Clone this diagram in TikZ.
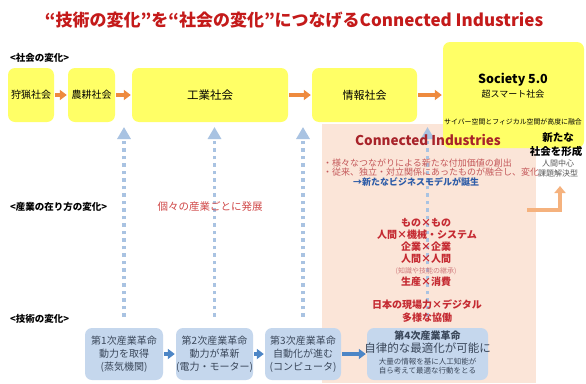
\documentclass[tikz,border=0pt]{standalone}
\usepackage{fontspec}
\setmainfont{Noto Sans CJK JP}
\usetikzlibrary{arrows.meta}
\definecolor{yel}{HTML}{FFFF66}
\definecolor{orng}{HTML}{EE8A3E}
\definecolor{lorng}{HTML}{F5B27E}
\definecolor{peach}{HTML}{FBE5D8}
\definecolor{lblue}{HTML}{C5D7ED}
\definecolor{darrc}{HTML}{A9C3E2}
\definecolor{barrc}{HTML}{4D86C6}
\definecolor{ttl}{HTML}{C41A1A}
\definecolor{dred}{HTML}{A8232A}
\definecolor{cred}{HTML}{C52A32}
\definecolor{mred}{HTML}{C4585A}
\definecolor{pred}{HTML}{D04848}
\definecolor{bltxt}{HTML}{2F5DA8}
\definecolor{boxtxt}{HTML}{3A475A}
\newcommand\myfs[2]{\fontsize{#1}{#2}\selectfont}
\tikzset{
  ybox/.style={fill=yel, rounded corners=7pt, inner sep=0pt, align=center},
  bbox/.style={fill=lblue, rounded corners=7pt, inner sep=0pt, align=center, text=boxtxt},
  oarr/.style={draw=orng, line width=3.5pt, -{Triangle[length=7pt,width=10pt]}, shorten <=1pt, shorten >=1pt},
  barr/.style={draw=barrc, line width=3.5pt, -{Triangle[length=7pt,width=10pt]}, shorten <=1pt, shorten >=1pt},
  darr/.style={draw=darrc, line width=3.5pt, dash pattern=on 3.5pt off 4pt, -{Triangle[length=12pt,width=13pt]}, shorten <=11pt},
  lab/.style={anchor=west, inner sep=0pt, font=\myfs{9.5}{11}\bfseries},
  ctr/.style={inner sep=0pt, align=center},
}
\begin{document}
\begin{tikzpicture}[x=1pt,y=-1pt]
\fill[white] (0,0) rectangle (586,383);
\useasboundingbox (0,0) rectangle (586,383);
% peach region
\fill[peach] (322,124) rectangle (536,383);
% title
\node[ctr, text=ttl, font=\myfs{17}{20}\bfseries] (title) at (294,20) {“技術の変化”を“社会の変化”につなげるConnected Industries};
% section labels
\node[lab] (l1) at (10,58) {<社会の変化>};
\node[lab] (l2) at (10,207) {<産業の在り方の変化>};
\node[lab] (l3) at (10,319) {<技術の変化>};
% top boxes
\node[ybox, minimum width=46pt, minimum height=54pt, font=\myfs{10}{12}] (hunt) at (31,95) {狩猟社会};
\node[ybox, minimum width=47pt, minimum height=54pt, font=\myfs{10}{12}] (agri) at (91.5,95) {農耕社会};
\node[ybox, minimum width=156pt, minimum height=54pt, font=\myfs{11.5}{13}] (ind) at (210,95) {工業社会};
\node[ybox, minimum width=105pt, minimum height=54pt, font=\myfs{11}{13}] (info) at (364.5,95) {情報社会};
\node[ybox, minimum width=141pt, minimum height=106pt] (soc) at (513.5,95) {};
\node[ctr, font=\myfs{12.5}{14}\bfseries] (soc1) at (513,80) {Society 5.0};
\node[ctr, font=\myfs{9}{11}] (soc2) at (513,94) {超スマート社会};
\node[ctr, font=\myfs{6.9}{8}] (soc3) at (513,122) {サイバー空間とフィジカル空間が高度に融合};
\draw[oarr] (hunt) -- (agri);
\draw[oarr] (agri) -- (ind);
\draw[oarr] (ind) -- (info);
\draw[oarr] (info) -- (soc);
% bottom boxes
\node[bbox, minimum width=78pt, minimum height=52pt, font=\myfs{10}{13}] (r1) at (124,354) {第1次産業革命\\動力を取得\\(蒸気機関)};
\node[bbox, minimum width=77pt, minimum height=52pt, font=\myfs{10}{13}] (r2) at (214.5,354) {第2次産業革命\\動力が革新\\(電力・モーター)};
\node[bbox, minimum width=76pt, minimum height=52pt, font=\myfs{10}{13}] (r3) at (303,354) {第3次産業革命\\自動化が進む\\(コンピュータ)};
\node[bbox, minimum width=121pt, minimum height=52pt] (r4) at (427.5,354) {};
\node[ctr, text=boxtxt, font=\myfs{10}{12}\bfseries] (r4a) at (427.5,336) {第4次産業革命};
\node[ctr, text=boxtxt, font=\myfs{11.5}{13}] (r4b) at (427.5,348.5) {自律的な最適化が可能に};
\node[ctr, text=boxtxt, font=\myfs{7.5}{9.5}] (r4c) at (427.5,366) {大量の情報を基に人工知能が\\自ら考えて最適な行動をとる};
\draw[barr] (r1) -- (r2);
\draw[barr] (r2) -- (r3);
\draw[barr] (r3) -- (r4);
% dotted arrows
\coordinate (tipy) at (0,127);
\draw[darr] (r1.north) -- (r1.north |- tipy);
\draw[darr] (r2.north) -- (r2.north |- tipy);
\draw[darr] (r3.north) -- (r3.north |- tipy);
\draw[darr] (r4.north) -- (r4.north |- tipy);
% connected industries
\node[ctr, text=dred, font=\myfs{13.5}{15}\bfseries] (ci) at (428,140) {Connected Industries};
\node[anchor=west, inner sep=0pt, text=mred, font=\myfs{9}{10}] (b1) at (323,163) {・様々なつながりによる新たな付加価値の創出};
\node[anchor=west, inner sep=0pt, text=mred, font=\myfs{9}{10}] (b2) at (323,172.5) {・従来、独立・対立関係にあったものが融合し、変化};
\node[anchor=west, inner sep=0pt, text=bltxt, font=\myfs{9}{10}\bfseries] (b3) at (353,182) {→新たなビジネスモデルが誕生};
% right texts
\node[ctr, font=\myfs{10.5}{12}\bfseries] (n1) at (558,138) {新たな};
\node[ctr, font=\myfs{10.5}{12}\bfseries] (n2) at (556,151.5) {社会を形成};
\node[ctr, text=black!65, font=\myfs{8}{9}] (n3) at (558,163) {人間中心};
\node[ctr, text=black!65, font=\myfs{8}{9}] (n4) at (558,173) {課題解決型};
\coordinate (ba) at (527,210);
\coordinate (bb) at (560,186);
\draw[draw=lorng, line width=3.5pt, -{Triangle[length=7pt,width=11pt]}] (ba) -| (bb);
% industry text
\node[ctr, text=pred, font=\myfs{10.5}{12}] (ko) at (210,207) {個々の産業ごとに発展};
\node[ctr, text=cred, font=\myfs{10}{12}\bfseries] (m1) at (426,223) {もの×もの};
\node[ctr, text=cred, font=\myfs{10}{12}\bfseries] (m2) at (427,235) {人間×機械・システム};
\node[ctr, text=cred, font=\myfs{10}{12}\bfseries] (m3) at (426,247) {企業×企業};
\node[ctr, text=cred, font=\myfs{10}{12}\bfseries] (m4) at (426,259) {人間×人間};
\node[ctr, text=mred!80, font=\myfs{7}{8}] (m5) at (426,271) {(知識や技能の継承)};
\node[ctr, text=cred, font=\myfs{10}{12}\bfseries] (m6) at (426,282) {生産×消費};
\node[ctr, text=cred, font=\myfs{10}{12}\bfseries] (m7) at (427,305) {日本の現場力×デジタル};
\node[ctr, text=cred, font=\myfs{10}{12}\bfseries] (m8) at (427,318) {多様な協働};
\end{tikzpicture}
\end{document}
